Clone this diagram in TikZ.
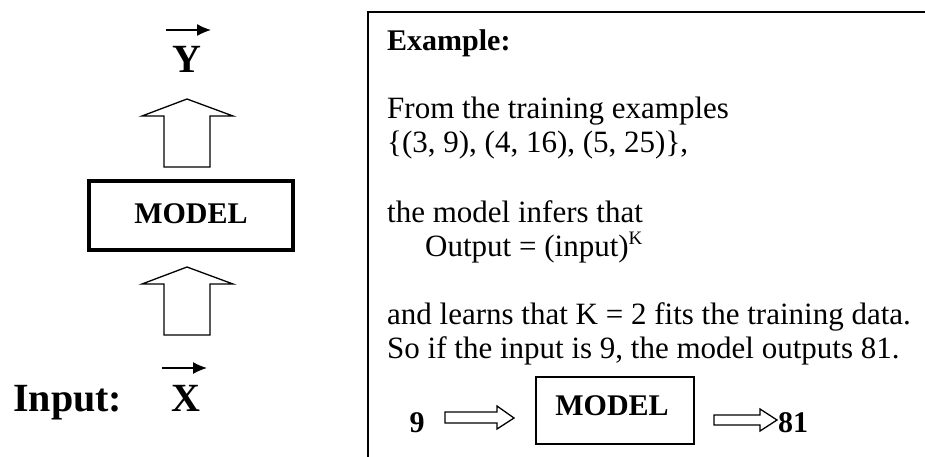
\documentclass[tikz,border=0pt]{standalone}
\usepackage{fontspec}
\setmainfont{Liberation Serif}
\usetikzlibrary{arrows.meta}
\begin{document}
\begin{tikzpicture}[x=1pt,y=-1pt,
  txt/.style={inner sep=0pt,anchor=base west,font=\fontsize{31}{34}\selectfont},
  btxt/.style={inner sep=0pt,anchor=base,font=\fontsize{30}{34}\selectfont\bfseries},
  big/.style={inner sep=0pt,anchor=base,font=\fontsize{40}{44}\selectfont\bfseries},
  blockarrow/.style={draw=black,line width=1.3pt,fill=white,line join=miter},
  vecarrow/.style={line width=1.3pt,-{Latex[length=14pt,width=12pt]}}]
\useasboundingbox (0,0) rectangle (925,456);
% right frame (extends beyond the page)
\begin{scope}
\clip (0,0) rectangle (925,456);
\draw[line width=2pt] (368,12) rectangle (945,480);
\end{scope}
% ---------- left part ----------
\node[big] (Y) at (187,72) {Y};
\coordinate (ya) at (166,30);
\coordinate (yb) at (211,30);
\draw[vecarrow] (ya) -- (yb);
\node[draw,line width=4.5pt,minimum width=204pt,minimum height=69pt,inner sep=0pt] (model) at (191,215.5) {};
\node[btxt] (modeltxt) at (191,223) {MODEL};
\draw[blockarrow] (164,167) -- (164,116) -- (142,116) -- (187,99) -- (233,116) -- (210,116) -- (210,167) -- cycle;
\draw[blockarrow] (164,335) -- (164,284) -- (142,284) -- (187,267) -- (233,284) -- (210,284) -- (210,335) -- cycle;
\node[big] (X) at (186,411) {X};
\coordinate (xa) at (162,368);
\coordinate (xb) at (207,368);
\draw[vecarrow] (xa) -- (xb);
\node[big,anchor=base west] (input) at (13,411) {Input:};
% ---------- right part ----------
\node[txt,font=\fontsize{30}{34}\selectfont\bfseries] (ex) at (387,50) {Example:};
\node[txt] (l1) at (387,118) {From the training examples};
\node[txt] (l2) at (387,152) {\{(3, 9), (4, 16), (5, 25)\},};
\node[txt] (l3) at (387,222) {the model infers that};
\node[txt] (l4) at (425,256) {Output = (input)\raisebox{12pt}{\fontsize{19}{20}\selectfont K}};
\node[txt] (l5) at (387,324) {and learns that K = 2 fits the training data.};
\node[txt] (l6) at (387,358) {So if the input is 9, the model outputs 81.};
\node[btxt] (nine) at (417,432) {9};
\node[draw,line width=1.3pt,minimum width=158pt,minimum height=67pt,inner sep=0pt] (smodel) at (615,410.5) {};
\node[btxt] (smodeltxt) at (612,415) {MODEL};
\node[btxt,anchor=base west] (out) at (778,432) {81};
\draw[blockarrow] (445,412) -- (497,412) -- (497,406) -- (514,418) -- (497,429) -- (497,423) -- (445,423) -- cycle;
\draw[blockarrow] (714,415) -- (760,415) -- (760,409) -- (777,420) -- (760,431) -- (760,425) -- (714,425) -- cycle;
\end{tikzpicture}
\end{document}
